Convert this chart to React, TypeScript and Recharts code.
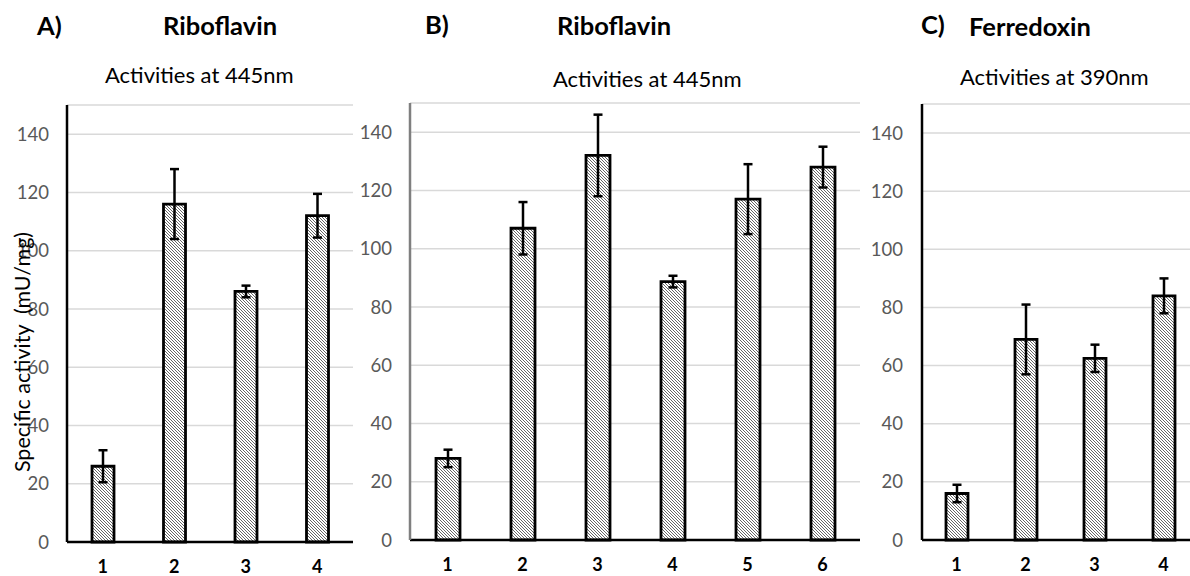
import { BarChart, Bar, XAxis, YAxis, CartesianGrid, ErrorBar } from 'recharts';

const labelsA = ['1', '2', '3', '4'];
const valuesA = [26, 116, 86, 112];
const errorsA = [5.5, 12, 2, 7.5];

const labelsB = ['1', '2', '3', '4', '5', '6'];
const valuesB = [28, 107, 132, 88.7, 117, 128];
const errorsB = [3, 9, 14, 2, 12, 7];

const labelsC = ['1', '2', '3', '4'];
const valuesC = [16, 69, 62.5, 84];
const errorsC = [3, 12, 4.7, 6];

const yTicks = [0, 20, 40, 60, 80, 100, 120, 140];

const FONT = 'Lato, "Open Sans", sans-serif';

type PanelProps = {
  id: string;
  labels: string[];
  values: number[];
  errors: number[];
  left: number;
  width: number;
  top: number;
  bottom: number;
  axisWidth: number;
  rightPad: number;
  barSize: number;
  tickGap: number;
  boxColor: string;
};

function Panel(p: PanelProps) {
  const rows = p.labels.map((label, i) => ({ label, value: p.values[i], err: p.errors[i] }));
  return (
    <div style={{ position: 'absolute', left: p.left, top: 0 }}>
      <BarChart
        width={p.width}
        height={576}
        data={rows}
        margin={{ top: p.top, right: p.rightPad, left: 0, bottom: 0 }}
        barCategoryGap={0}
        style={{ fontFamily: FONT }}
      >
        <defs>
          <pattern id={p.id} patternUnits="userSpaceOnUse" width={3} height={3}>
            <rect width={3} height={3} fill="#fff" />
            <path d="M-1,-1 L4,4 M2,-1 L4,1 M-1,2 L1,4" stroke="#333" strokeWidth={0.75} />
          </pattern>
        </defs>
        <CartesianGrid vertical={false} stroke="#d9d9d9" strokeWidth={1.5} />
        <XAxis
          dataKey="label"
          height={576 - p.bottom}
          axisLine={{ stroke: '#000', strokeWidth: 2.5 }}
          tickLine={false}
          tickSize={0}
          tickMargin={18}
          tick={{ fill: '#000', fontSize: 18, fontWeight: 700 }}
        />
        <XAxis
          xAxisId="top"
          dataKey="label"
          orientation="top"
          height={0}
          axisLine={{ stroke: p.boxColor, strokeWidth: 2.5 }}
          tickLine={false}
          tick={false}
        />
        <YAxis
          width={p.axisWidth}
          domain={[0, 150]}
          ticks={yTicks}
          axisLine={{ stroke: p.boxColor, strokeWidth: 2.5 }}
          tickLine={false}
          tickSize={0}
          tickMargin={p.tickGap}
          tick={{ fill: '#595959', fontSize: 18.5 }}
        />
        <YAxis
          yAxisId="right"
          orientation="right"
          width={0}
          domain={[0, 150]}
          axisLine={{ stroke: p.boxColor, strokeWidth: 2.5 }}
          tickLine={false}
          tick={false}
        />
        <Bar
          dataKey="value"
          barSize={p.barSize}
          fill={`url(#${p.id})`}
          stroke="#000"
          strokeWidth={2.8}
          isAnimationActive={false}
        >
          <ErrorBar dataKey="err" width={4.5} stroke="#000" strokeWidth={2.5} direction="y" isAnimationActive={false} />
        </Bar>
      </BarChart>
    </div>
  );
}

const txt = (left: number, top: number, size: number, bold: boolean, s: string) => (
  <div
    style={{
      position: 'absolute',
      left,
      top,
      fontSize: size,
      lineHeight: 1,
      fontWeight: bold ? 700 : 400,
      whiteSpace: 'nowrap',
      color: '#000',
    }}
  >
    {s}
  </div>
);

export default function App() {
  return (
    <div
      style={{
        position: 'absolute',
        left: 0,
        top: 0,
        width: 1190,
        height: 576,
        overflow: 'hidden',
        background: '#fff',
        fontFamily: FONT,
      }}
    >
      {txt(37, 13, 25.5, true, 'A)')}
      {txt(163, 13, 25.5, true, 'Riboflavin')}
      {txt(105, 64, 22, false, 'Activities at 445nm')}

      {txt(425, 12, 25.5, true, 'B)')}
      {txt(557, 13, 25.5, true, 'Riboflavin')}
      {txt(553, 68, 22, false, 'Activities at 445nm')}

      {txt(921, 12, 25.5, true, 'C)')}
      {txt(969, 14, 25.5, true, 'Ferredoxin')}
      {txt(960, 66, 22, false, 'Activities at 390nm')}

      <Panel id="hatchA" labels={labelsA} values={valuesA} errors={errorsA}
        left={0} width={360} top={105} bottom={542} axisWidth={67} rightPad={7}
        barSize={22} tickGap={18} boxColor="#000" />
      <Panel id="hatchB" labels={labelsB} values={valuesB} errors={errorsB}
        left={340} width={530} top={103} bottom={540} axisWidth={70} rightPad={10}
        barSize={24} tickGap={18} boxColor="#7f7f7f" />
      <Panel id="hatchC" labels={labelsC} values={valuesC} errors={errorsC}
        left={860} width={340} top={104} bottom={540} axisWidth={62} rightPad={2}
        barSize={22} tickGap={19} boxColor="#000" />

      <div
        style={{
          position: 'absolute',
          left: 22,
          top: 352,
          transform: 'translate(-50%, -50%) rotate(-90deg)',
          fontSize: 21.5,
          whiteSpace: 'pre',
          color: '#000',
        }}
      >
        {'Specific activity  (mU/mg)'}
      </div>
    </div>
  );
}
